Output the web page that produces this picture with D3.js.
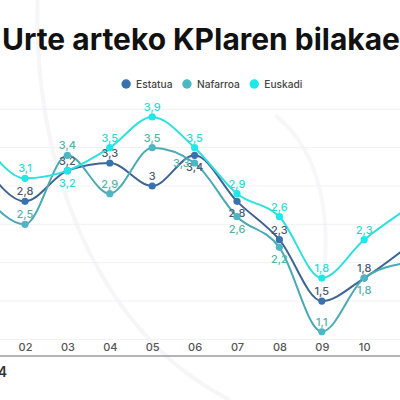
<!DOCTYPE html>
<html>
<head>
<meta charset="utf-8">
<script src="https://cdn.jsdelivr.net/npm/d3@7"></script>
<style>
  html, body { margin: 0; padding: 0; background: #fff; }
  svg { display: block; }
</style>
</head>
<body>
<svg id="chart"></svg>
<script>
// Chart data
const months = ["01", "02", "03", "04", "05", "06", "07", "08", "09", "10", "11"];
const estatua  = [3.3, 2.8, 3.2, 3.3, 3.0, 3.4, 2.8, 2.3, 1.5, 1.8, 2.2];
const nafarroa = [2.9, 2.5, 3.4, 2.9, 3.5, 3.3, 2.6, 2.2, 1.1, 1.8, 2.0];
const euskadi  = [3.6, 3.1, 3.2, 3.5, 3.9, 3.5, 2.9, 2.6, 1.8, 2.3, 2.7];
const seriesNames = ["Estatua", "Nafarroa", "Euskadi"];
const gridTicks = [1, 1.5, 2, 2.5, 3, 3.5, 4];
// months whose tick and value labels fall inside the visible crop
const shownMonths = ["02", "03", "04", "05", "06", "07", "08", "09", "10"];

// where each value label sits relative to its point: a = above, b = below, l = left
const estatuaLabelPos  = ["a", "a", "a", "a", "a", "b", "b", "a", "a", "a", "a"];
const nafarroaLabelPos = ["a", "a", "a", "a", "a", "l", "b", "b", "a", "b", "a"];
const euskadiLabelPos  = ["a", "a", "b", "a", "a", "a", "a", "a", "a", "a", "a"];

const width = 400;
const height = 400;
const font = "Inter, 'Noto Sans', sans-serif";

const svg = d3.select("#chart")
              .attr("width", width)
              .attr("height", height);

// faint decorative arcs in the background
svg.append("path")
   .attr("d", "M 38 -10 C 30 150, 90 330, 230 400")
   .attr("fill", "none")
   .attr("stroke", "#f6f6f8")
   .attr("stroke-width", 4);
svg.append("path")
   .attr("d", "M 275 115 C 320 150, 335 220, 320 300")
   .attr("fill", "none")
   .attr("stroke", "#f7f7f9")
   .attr("stroke-width", 4);

const x = d3.scalePoint()
            .domain(months)
            .range([-17.4, 406.6]);

const y = d3.scaleLinear()
            .domain([1, 4])
            .range([339.4, 109.3]);

// horizontal grid
svg.append("g")
   .selectAll("line")
   .data(gridTicks)
   .enter().append("line")
   .attr("x1", 0)
   .attr("x2", width)
   .attr("y1", d => y(d))
   .attr("y2", d => y(d))
   .attr("stroke", "#f1f1f3")
   .attr("stroke-width", 1);

// x axis baseline and labels
svg.append("line")
   .attr("x1", 0).attr("x2", width)
   .attr("y1", 356).attr("y2", 356)
   .attr("stroke", "#9a9a9a")
   .attr("stroke-width", 1.6);

const xAxis = d3.axisBottom(x).tickValues(shownMonths).tickSize(0).tickPadding(0);
const gx = svg.append("g")
   .attr("transform", "translate(0,343)")
   .call(xAxis);
gx.select(".domain").remove();
gx.selectAll("text")
  .attr("dy", "0.71em")
  .attr("font-family", font)
  .attr("font-size", 11)
  .attr("font-weight", 500)
  .attr("fill", "#555");

// cut-off year text at bottom left
svg.append("text")
   .attr("x", 7)
   .attr("y", 377)
   .attr("text-anchor", "end")
   .attr("font-family", font)
   .attr("font-size", 14)
   .attr("font-weight", 600)
   .attr("fill", "#333")
   .text("2024");

// series setup
const series = [
  { name: seriesNames[0], values: estatua,  pos: estatuaLabelPos,  dot: "#3a72ad", line: "#3e6495", label: "#4d5b70" },
  { name: seriesNames[1], values: nafarroa, pos: nafarroaLabelPos, dot: "#4cb6c4", line: "#4aa9b3", label: "#55b3a6" },
  { name: seriesNames[2], values: euskadi,  pos: euskadiLabelPos,  dot: "#1ee8e8", line: "#2ee0de", label: "#2fd9d6" }
];

const line = d3.line()
               .x((d, i) => x(months[i]))
               .y(d => y(d))
               .curve(d3.curveMonotoneX);

const fmt = v => String(v).replace(".", ",");

series.forEach(s => {
  svg.append("path")
     .datum(s.values)
     .attr("d", line)
     .attr("fill", "none")
     .attr("stroke", s.line)
     .attr("stroke-width", 2);
});

series.forEach(s => {
  const pts = s.values.map((v, i) => ({ v, m: months[i], pos: s.pos[i] }));
  const g = svg.append("g");
  g.selectAll("circle")
   .data(pts)
   .enter().append("circle")
   .attr("cx", d => x(d.m))
   .attr("cy", d => y(d.v))
   .attr("r", 3.6)
   .attr("fill", s.dot);

  g.selectAll("text")
   .data(pts.filter(d => shownMonths.includes(d.m)))
   .enter().append("text")
   .attr("x", d => d.pos === "l" ? x(d.m) - 5 : x(d.m))
   .attr("y", d => {
       if (d.pos === "b") return y(d.v) + 16;
       if (d.pos === "l") return y(d.v) + 4;
       return y(d.v) - 6;
   })
   .attr("text-anchor", d => d.pos === "l" ? "end" : "middle")
   .attr("font-family", font)
   .attr("font-size", 11)
   .attr("font-weight", 500)
   .attr("fill", s.label)
   .text(d => fmt(d.v));
});

// legend
const legend = svg.append("g").attr("transform", "translate(0,84)");
const items = [];
series.forEach(s => {
  const item = legend.append("g");
  item.append("circle")
      .attr("cx", 4.5).attr("cy", 0).attr("r", 4.7)
      .attr("fill", s.dot);
  const t = item.append("text")
      .attr("x", 14.5).attr("y", 3.8)
      .attr("font-family", font)
      .attr("font-size", 10.2)
      .attr("font-weight", 500)
      .attr("fill", "#454545")
      .text(s.name);
  items.push({ item, w: 14.5 + t.node().getComputedTextLength() });
});
const gap = 10;
const total = d3.sum(items, d => d.w) + gap * (items.length - 1);
let lx = 212 - total / 2;
items.forEach(d => {
  d.item.attr("transform", `translate(${lx},0)`);
  lx += d.w + gap;
});

// title, sized so that "Urte arteko KPIaren bilakae" fills the width
const title = svg.append("text")
   .attr("x", 2)
   .attr("y", 50)
   .attr("font-family", font)
   .attr("font-size", 30)
   .attr("font-weight", 700)
   .attr("fill", "#111")
   .text("Urte arteko KPIaren bilakaera");
const visible = title.node().getSubStringLength(0, 27);
title.attr("font-size", 30 * 398 / visible);
</script>
</body>
</html>
